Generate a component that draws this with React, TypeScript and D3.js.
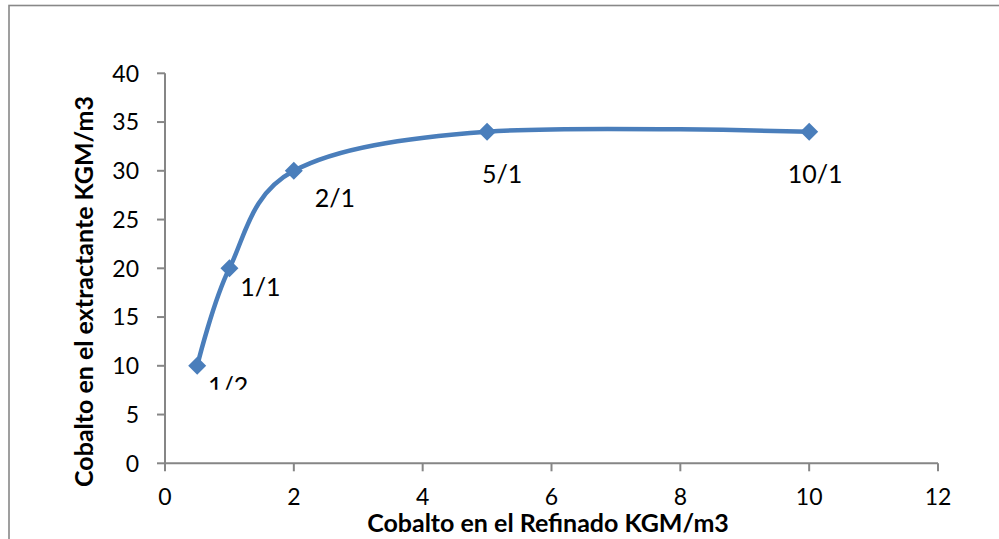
import React from "react";
import * as d3 from "d3";

// Cobalt in the raffinate (x) vs cobalt in the extractant (y), labelled by O/A ratio
const refinado = [0.5, 1, 2, 5, 10];
const extractante = [10, 20, 30, 34, 34];
const ratios = ["1/2", "1/1", "2/1", "5/1", "10/1"];
const xTicks = [0, 2, 4, 6, 8, 10, 12];
const yTicks = [0, 5, 10, 15, 20, 25, 30, 35, 40];

const W = 999;
const H = 539;
const FONT = "Lato, 'Open Sans', 'DejaVu Sans', sans-serif";
const AXIS = "#868686";
const BLUE = "#4a7ebb";

// label placement relative to each marker (dx, dy of text centre)
const labelOffsets: [number, number][] = [
  [31, 20],
  [31, 19],
  [41, 27],
  [15, 42],
  [6, 42],
];

export default function App() {
  const x = d3.scaleLinear().domain([0, 12]).range([165, 938]);
  const y = d3.scaleLinear().domain([0, 40]).range([463.3, 73.3]);

  const pts: [number, number][] = refinado.map((v, i) => [x(v), y(extractante[i])]);
  const line = d3.line().curve(d3.curveCardinal.tension(0))(pts) || "";

  const diamond = (cx: number, cy: number, r: number) =>
    `M${cx},${cy - r}L${cx + r},${cy}L${cx},${cy + r}L${cx - r},${cy}Z`;

  return (
    <svg
      width={W}
      height={H}
      style={{ position: "absolute", left: 0, top: 0, background: "#fff" }}
      fontFamily={FONT}
    >
      <defs>
        <clipPath id="firstLabelClip">
          <rect x={0} y={0} width={W} height={pts[0][1] + 24} />
        </clipPath>
      </defs>
      <rect x={9} y={5.5} width={W + 10} height={H + 10} fill="#fff" stroke="#888" strokeWidth={1.6} />

      {/* y axis */}
      <line x1={x(0)} x2={x(0)} y1={y(40)} y2={y(0)} stroke={AXIS} strokeWidth={2} />
      {yTicks.map((t) => (
        <g key={"y" + t}>
          <line x1={x(0) - 8} x2={x(0)} y1={y(t)} y2={y(t)} stroke={AXIS} strokeWidth={2} />
          <text x={139} y={y(t)} dy="0.36em" textAnchor="end" fontSize={23} fill="#000">
            {t}
          </text>
        </g>
      ))}

      {/* x axis */}
      <line x1={x(0)} x2={x(12)} y1={y(0)} y2={y(0)} stroke={AXIS} strokeWidth={2} />
      {xTicks.map((t) => (
        <g key={"x" + t}>
          <line x1={x(t)} x2={x(t)} y1={y(0)} y2={y(0) + 8} stroke={AXIS} strokeWidth={2} />
          <text x={x(t)} y={y(0) + 33} dy="0.36em" textAnchor="middle" fontSize={23} fill="#000">
            {t}
          </text>
        </g>
      ))}

      {/* axis titles */}
      <text x={548} y={532} textAnchor="middle" fontSize={25} fontWeight="bold" fill="#000">
        Cobalto en el Refinado KGM/m3
      </text>
      <text
        transform={`translate(93,291.5) rotate(-90)`}
        textAnchor="middle"
        fontSize={25}
        fontWeight="bold"
        fill="#000"
      >
        Cobalto en el extractante KGM/m3
      </text>

      {/* smoothed series line */}
      <path d={line} fill="none" stroke={BLUE} strokeWidth={4.5} strokeLinejoin="round" />
      {pts.map(([px, py], i) => (
        <path key={"m" + i} d={diamond(px, py, 9)} fill={BLUE} />
      ))}

      {/* data labels */}
      {pts.map(([px, py], i) => (
        <text
          key={"l" + i}
          x={px + labelOffsets[i][0]}
          y={py + labelOffsets[i][1]}
          dy="0.36em"
          textAnchor="middle"
          fontSize={25}
          fill="#000"
          clipPath={i === 0 ? "url(#firstLabelClip)" : undefined}
        >
          {ratios[i]}
        </text>
      ))}
    </svg>
  );
}
